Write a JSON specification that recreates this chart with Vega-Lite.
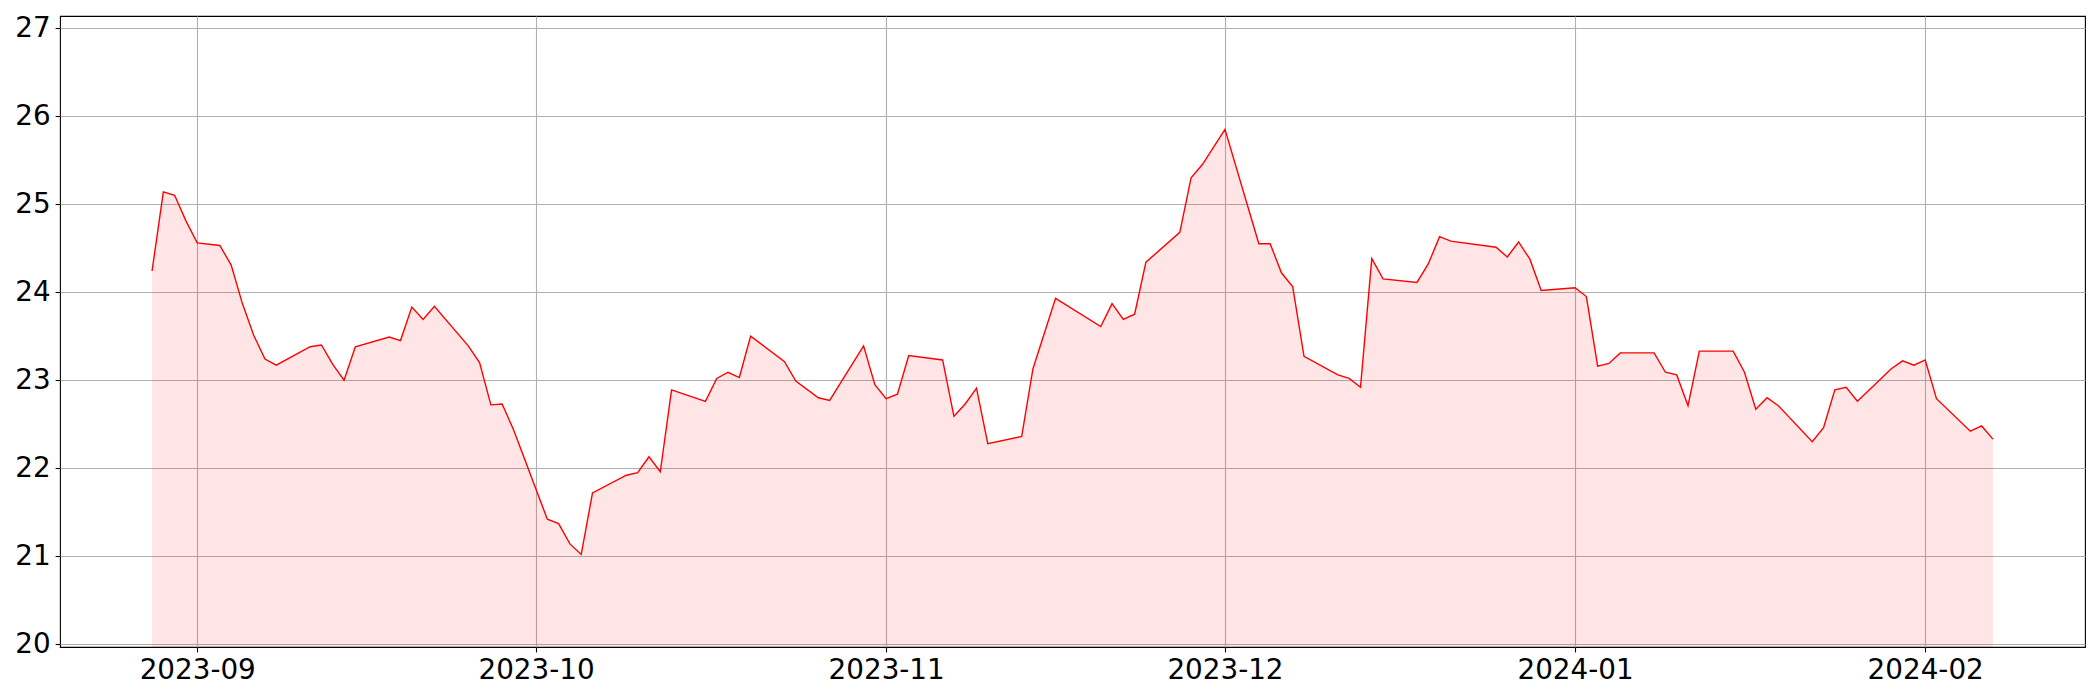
{
  "$schema": "https://vega.github.io/schema/vega-lite/v6.json",
  "width": 2025,
  "height": 631,
  "autosize": "none",
  "padding": {"left": 60, "top": 16, "right": 15, "bottom": 53},
  "background": "white",
  "config": {
    "view": {"stroke": "black", "strokeWidth": 1.1},
    "axis": {
      "domain": false,
      "grid": true,
      "gridColor": "#b0b0b0",
      "gridWidth": 1.1,
      "tickColor": "black",
      "tickWidth": 1.1,
      "tickSize": 4.9,
      "labelPadding": 4.9,
      "labelFont": "DejaVu Sans",
      "labelFontSize": 27.8,
      "labelColor": "black",
      "title": null
    }
  },
  "data": {
    "values": [
      {"date": "2023-08-28", "value": 24.24},
      {"date": "2023-08-29", "value": 25.14},
      {"date": "2023-08-30", "value": 25.10},
      {"date": "2023-08-31", "value": 24.81},
      {"date": "2023-09-01", "value": 24.56},
      {"date": "2023-09-03", "value": 24.53},
      {"date": "2023-09-04", "value": 24.31},
      {"date": "2023-09-05", "value": 23.87},
      {"date": "2023-09-06", "value": 23.51},
      {"date": "2023-09-07", "value": 23.24},
      {"date": "2023-09-08", "value": 23.17},
      {"date": "2023-09-11", "value": 23.38},
      {"date": "2023-09-12", "value": 23.40},
      {"date": "2023-09-13", "value": 23.18},
      {"date": "2023-09-14", "value": 23.00},
      {"date": "2023-09-15", "value": 23.38},
      {"date": "2023-09-18", "value": 23.49},
      {"date": "2023-09-19", "value": 23.45},
      {"date": "2023-09-20", "value": 23.83},
      {"date": "2023-09-21", "value": 23.69},
      {"date": "2023-09-22", "value": 23.84},
      {"date": "2023-09-25", "value": 23.39},
      {"date": "2023-09-26", "value": 23.20},
      {"date": "2023-09-27", "value": 22.72},
      {"date": "2023-09-28", "value": 22.73},
      {"date": "2023-09-29", "value": 22.44},
      {"date": "2023-10-02", "value": 21.42},
      {"date": "2023-10-03", "value": 21.37},
      {"date": "2023-10-04", "value": 21.14},
      {"date": "2023-10-05", "value": 21.02},
      {"date": "2023-10-06", "value": 21.72},
      {"date": "2023-10-09", "value": 21.92},
      {"date": "2023-10-10", "value": 21.95},
      {"date": "2023-10-11", "value": 22.13},
      {"date": "2023-10-12", "value": 21.96},
      {"date": "2023-10-13", "value": 22.89},
      {"date": "2023-10-16", "value": 22.76},
      {"date": "2023-10-17", "value": 23.02},
      {"date": "2023-10-18", "value": 23.09},
      {"date": "2023-10-19", "value": 23.03},
      {"date": "2023-10-20", "value": 23.50},
      {"date": "2023-10-23", "value": 23.21},
      {"date": "2023-10-24", "value": 22.99},
      {"date": "2023-10-26", "value": 22.80},
      {"date": "2023-10-27", "value": 22.77},
      {"date": "2023-10-30", "value": 23.39},
      {"date": "2023-10-31", "value": 22.95},
      {"date": "2023-11-01", "value": 22.79},
      {"date": "2023-11-02", "value": 22.84},
      {"date": "2023-11-03", "value": 23.28},
      {"date": "2023-11-06", "value": 23.23},
      {"date": "2023-11-07", "value": 22.59},
      {"date": "2023-11-08", "value": 22.73},
      {"date": "2023-11-09", "value": 22.91},
      {"date": "2023-11-10", "value": 22.28},
      {"date": "2023-11-13", "value": 22.36},
      {"date": "2023-11-14", "value": 23.13},
      {"date": "2023-11-16", "value": 23.93},
      {"date": "2023-11-20", "value": 23.61},
      {"date": "2023-11-21", "value": 23.87},
      {"date": "2023-11-22", "value": 23.69},
      {"date": "2023-11-23", "value": 23.75},
      {"date": "2023-11-24", "value": 24.34},
      {"date": "2023-11-27", "value": 24.68},
      {"date": "2023-11-28", "value": 25.30},
      {"date": "2023-11-29", "value": 25.45},
      {"date": "2023-12-01", "value": 25.85},
      {"date": "2023-12-04", "value": 24.55},
      {"date": "2023-12-05", "value": 24.55},
      {"date": "2023-12-06", "value": 24.22},
      {"date": "2023-12-07", "value": 24.06},
      {"date": "2023-12-08", "value": 23.27},
      {"date": "2023-12-11", "value": 23.06},
      {"date": "2023-12-12", "value": 23.02},
      {"date": "2023-12-13", "value": 22.92},
      {"date": "2023-12-14", "value": 24.38},
      {"date": "2023-12-15", "value": 24.15},
      {"date": "2023-12-18", "value": 24.11},
      {"date": "2023-12-19", "value": 24.32},
      {"date": "2023-12-20", "value": 24.63},
      {"date": "2023-12-21", "value": 24.58},
      {"date": "2023-12-25", "value": 24.51},
      {"date": "2023-12-26", "value": 24.40},
      {"date": "2023-12-27", "value": 24.57},
      {"date": "2023-12-28", "value": 24.375},
      {"date": "2023-12-29", "value": 24.02},
      {"date": "2024-01-01", "value": 24.05},
      {"date": "2024-01-02", "value": 23.95},
      {"date": "2024-01-03", "value": 23.16},
      {"date": "2024-01-04", "value": 23.19},
      {"date": "2024-01-05", "value": 23.31},
      {"date": "2024-01-08", "value": 23.31},
      {"date": "2024-01-09", "value": 23.09},
      {"date": "2024-01-10", "value": 23.06},
      {"date": "2024-01-11", "value": 22.71},
      {"date": "2024-01-12", "value": 23.33},
      {"date": "2024-01-15", "value": 23.33},
      {"date": "2024-01-16", "value": 23.09},
      {"date": "2024-01-17", "value": 22.67},
      {"date": "2024-01-18", "value": 22.80},
      {"date": "2024-01-19", "value": 22.71},
      {"date": "2024-01-22", "value": 22.30},
      {"date": "2024-01-23", "value": 22.46},
      {"date": "2024-01-24", "value": 22.89},
      {"date": "2024-01-25", "value": 22.92},
      {"date": "2024-01-26", "value": 22.76},
      {"date": "2024-01-29", "value": 23.13},
      {"date": "2024-01-30", "value": 23.22},
      {"date": "2024-01-31", "value": 23.17},
      {"date": "2024-02-01", "value": 23.23},
      {"date": "2024-02-02", "value": 22.79},
      {"date": "2024-02-05", "value": 22.42},
      {"date": "2024-02-06", "value": 22.48},
      {"date": "2024-02-07", "value": 22.33}
    ]
  },
  "encoding": {
    "x": {
      "field": "date",
      "type": "temporal",
      "scale": {
        "type": "utc",
        "domain": [
          {"year": 2023, "month": 8, "date": 19, "hours": 20, "minutes": 24, "utc": true},
          {"year": 2024, "month": 2, "date": 15, "hours": 3, "minutes": 36, "utc": true}
        ]
      },
      "axis": {
        "format": "%Y-%m",
        "values": [
          {"year": 2023, "month": 9, "date": 1, "utc": true},
          {"year": 2023, "month": 10, "date": 1, "utc": true},
          {"year": 2023, "month": 11, "date": 1, "utc": true},
          {"year": 2023, "month": 12, "date": 1, "utc": true},
          {"year": 2024, "month": 1, "date": 1, "utc": true},
          {"year": 2024, "month": 2, "date": 1, "utc": true}
        ],
        "labelFlush": false,
        "labelOverlap": false
      }
    },
    "y": {
      "field": "value",
      "type": "quantitative",
      "scale": {"domain": [19.969, 27.137], "nice": false, "zero": false},
      "axis": {"values": [20, 21, 22, 23, 24, 25, 26, 27], "format": "d", "labelOverlap": false}
    }
  },
  "layer": [
    {"mark": {"type": "area", "color": "red", "fillOpacity": 0.1, "clip": true}},
    {"mark": {"type": "line", "color": "red", "strokeWidth": 1.4, "clip": true}}
  ]
}
